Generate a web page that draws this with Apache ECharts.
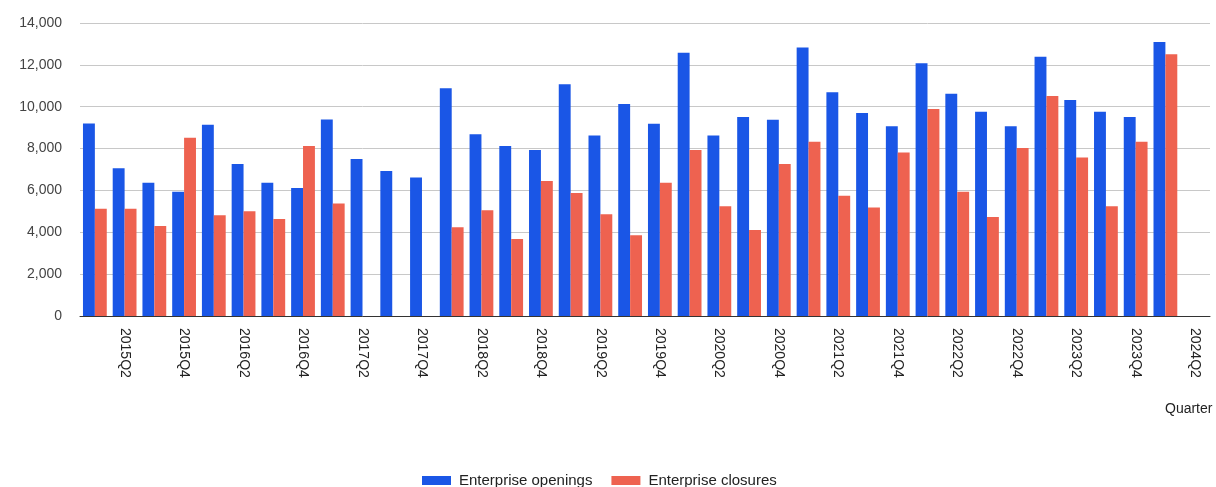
<!DOCTYPE html>
<html>
<head>
<meta charset="utf-8">
<script src="https://cdn.jsdelivr.net/npm/echarts@6/dist/echarts.min.js"></script>
<style>
html,body{margin:0;padding:0;background:#fff;}
#chart{width:1216px;height:487px;}
</style>
</head>
<body>
<div id="chart"></div>
<script>
const categories = [];
for (let y = 2015; y <= 2024; y++) {
  for (let q = 1; q <= 4; q++) {
    if (y === 2024 && q > 2) break;
    categories.push(y + 'Q' + q);
  }
}
const openings = [9200, 7056, 6368, 5936, 9136, 7264, 6368, 6112, 9392, 7504, 6928, 6620,
  10880, 8688, 8128, 7936, 11072, 8624, 10128, 9184, 12576, 8624, 9504, 9376,
  12832, 10688, 9696, 9072, 12080, 10624, 9760, 9072, 12384, 10320, 9760, 9504,
  13088, null];
const closures = [5120, 5120, 4304, 8512, 4816, 5008, 4640, 8128, 5376, null, null, null,
  4240, 5056, 3680, 6448, 5872, 4864, 3856, 6368, 7936, 5248, 4112, 7264,
  8320, 5744, 5184, 7808, 9888, 5936, 4736, 8032, 10512, 7568, 5248, 8320,
  12512, null];
const seriesNames = ['Enterprise openings', 'Enterprise closures'];
const axisTitle = 'Quarter';

const font = 'Arial, "Liberation Sans", sans-serif';
const chart = echarts.init(document.getElementById('chart'), null, {renderer: 'canvas'});
chart.setOption({
  animation: false,
  textStyle: {fontFamily: font},
  color: ['#1a56e6', '#ee6250'],
  grid: {left: 80, right: 6, top: 23, bottom: 171, containLabel: false, outerBoundsMode: 'none'},
  legend: {
    top: 473,
    left: 422,
    padding: 0,
    itemWidth: 29,
    itemHeight: 9,
    itemGap: 19,
    icon: 'rect',
    textStyle: {fontSize: 15, color: '#222', fontFamily: font, padding: [0, 0, 0, 3]},
    data: seriesNames
  },
  xAxis: {
    type: 'category',
    data: categories,
    name: axisTitle,
    nameLocation: 'end',
    nameGap: -45,
    nameTextStyle: {fontSize: 14, color: '#222', fontFamily: font, align: 'left', verticalAlign: 'top', padding: [86, 0, 0, 0]},
    axisLine: {lineStyle: {color: '#333', width: 1}},
    axisTick: {show: false},
    axisLabel: {
      rotate: -90,
      margin: 12,
      fontSize: 14,
      color: '#222',
      fontFamily: font,
      interval: function (idx) { return idx % 2 === 1; }
    }
  },
  yAxis: {
    type: 'value',
    min: 0,
    max: 14000,
    interval: 2000,
    axisLine: {show: false},
    axisTick: {show: false},
    splitLine: {lineStyle: {color: '#c8c8c8', width: 1}},
    axisLabel: {
      fontSize: 14,
      color: '#444',
      fontFamily: font,
      margin: 18,
      formatter: function (v) { return v.toLocaleString('en-US'); }
    }
  },
  series: [
    {name: seriesNames[0], type: 'bar', data: openings, barGap: '0%', barCategoryGap: '20%'},
    {name: seriesNames[1], type: 'bar', data: closures, barGap: '0%', barCategoryGap: '20%'}
  ]
});
</script>
</body>
</html>
